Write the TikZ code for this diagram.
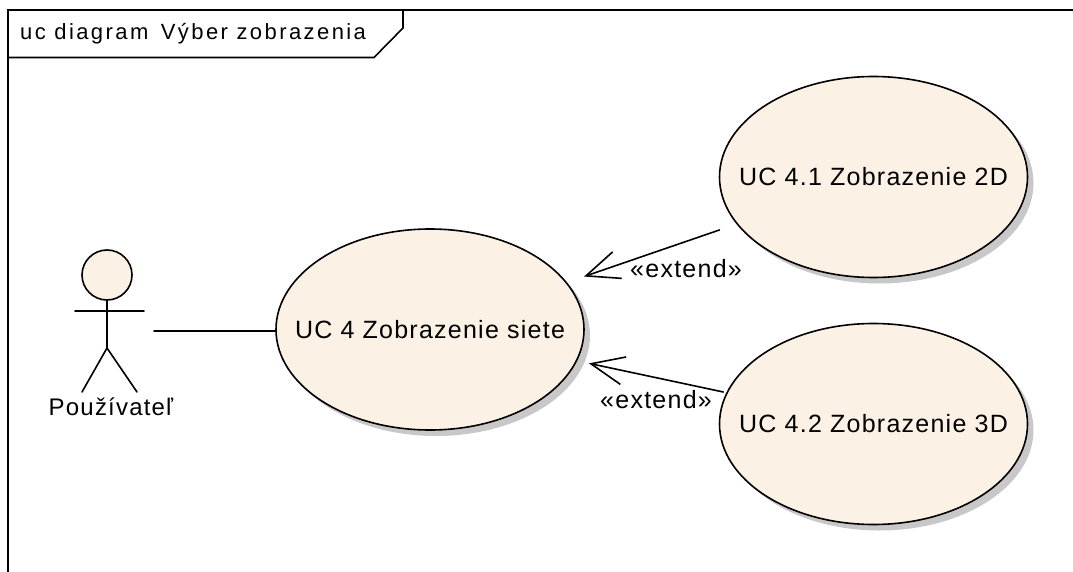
\documentclass[tikz,border=0pt]{standalone}
\usepackage{fontspec}
\setmainfont{Liberation Sans}
\newfontfamily\ucfont[LetterSpace=5]{Liberation Sans}
\newfontfamily\ucttlfont[LetterSpace=11]{Liberation Sans}
\usetikzlibrary{arrows.meta,shadows,shapes.geometric}
\definecolor{ucfill}{RGB}{251,241,228}
\definecolor{ucshadow}{RGB}{200,200,200}
\begin{document}
\begin{tikzpicture}[x=1pt,y=-1pt,
  ln/.style={line width=1.6pt, line cap=round, line join=round},
  usecase/.style={ellipse, draw, line width=1.6pt, fill=ucfill, inner sep=0pt,
    minimum width=308pt, minimum height=201pt,
    font=\ucfont\fontsize{25}{30}\selectfont,
    drop shadow={shadow xshift=6pt, shadow yshift=-6pt, fill=ucshadow, opacity=1}},
  lbl/.style={inner sep=0pt, anchor=base, font=\ucfont\fontsize{25}{30}\selectfont},
  extendarrow/.style={ln, -{Straight Barb[length=33pt, width=28pt, line width=1.6pt]}}
]
\useasboundingbox (0,0) rectangle (1073,572);

% diagram frame and its title tab
\draw[line width=1.6pt] (8,600) -- (8,10) -- (1090,10);
\draw[line width=1.6pt] (8,57.5) -- (374,57.5) -- (403,28) -- (403,10);
\node[inner sep=0pt, anchor=base west, font=\ucttlfont\fontsize{22}{26}\selectfont]
  (title) at (20,39.5) {uc diagram\hspace{4pt} Výber zobrazenia};

% use cases
\node[usecase] (uc4)  at (430,329.5) {\makebox[0pt]{UC 4 Zobrazenie siete}};
\node[usecase] (uc41) at (873.5,177) {\makebox[0pt]{UC 4.1 Zobrazenie 2D}};
\node[usecase] (uc42) at (873.5,424) {\makebox[0pt]{UC 4.2 Zobrazenie 3D}};

% actor
\node[circle, draw, line width=1.6pt, fill=ucfill, minimum size=50pt, inner sep=0pt]
  (head) at (107,275) {};
\coordinate (hip) at (107,348);
\coordinate (armL) at (75,311);
\coordinate (armR) at (144,311);
\coordinate (footL) at (82,392);
\coordinate (footR) at (137,392);
\draw[ln] (head.south) -- (hip);
\draw[ln] (armL) -- (armR);
\draw[ln] (footL) -- (hip) -- (footR);
\node[lbl, font=\ucfont\fontsize{24}{29}\selectfont] (actor) at (111,415) {Používateľ};

% association actor -- use case
\coordinate (assocA) at (154,331);
\draw[ln] (assocA) -- (assocA -| uc4.west);

% extend relations
\draw[extendarrow, shorten <=18pt, shorten >=18pt] (uc41) -- (uc4);
\draw[extendarrow, shorten <=3pt, shorten >=12pt] (uc42) -- (uc4);
\node[lbl, anchor=base west] (ext1) at (630,277) {«extend»};
\node[lbl, anchor=base west] (ext2) at (600,408) {«extend»};
\end{tikzpicture}
\end{document}
